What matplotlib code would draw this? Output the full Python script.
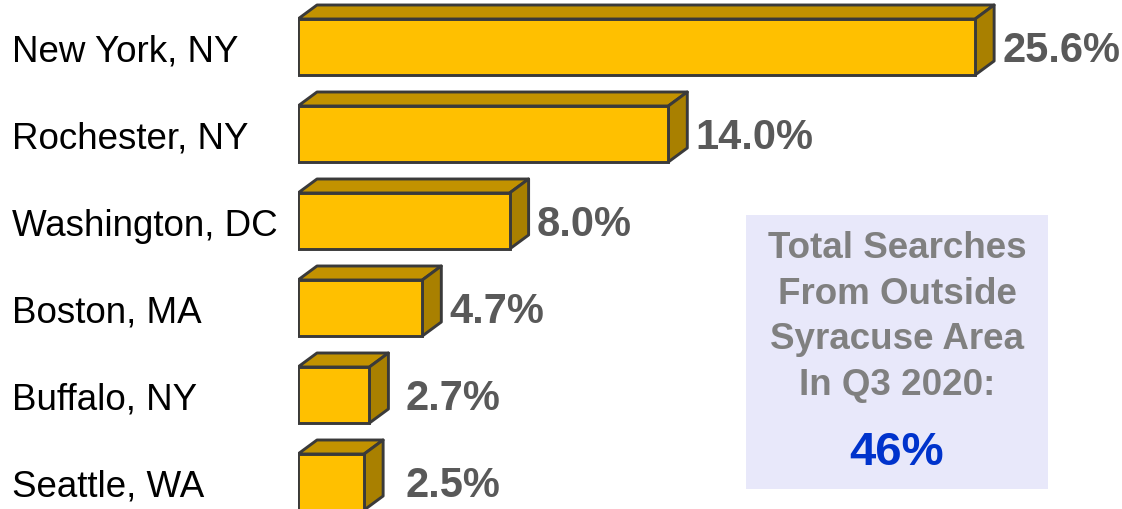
import matplotlib
matplotlib.use("Agg")
import matplotlib.pyplot as plt
from matplotlib.patches import Polygon, Rectangle
from matplotlib.transforms import blended_transform_factory

plt.rcParams['font.family'] = ['Liberation Sans', 'DejaVu Sans']

cities = ["New York, NY", "Rochester, NY", "Washington, DC",
          "Boston, MA", "Buffalo, NY", "Seattle, WA"]
shares = [25.6, 14.0, 8.0, 4.7, 2.7, 2.5]
share_labels = ["25.6%", "14.0%", "8.0%", "4.7%", "2.7%", "2.5%"]
total_outside = "46%"

W, H = 1122, 510
fig = plt.figure(figsize=(W / 100, H / 100), dpi=100)
fig.patch.set_facecolor("white")

# axes: x=0 sits at pixel 298, 26.45 px per percent; rows every 87 px
x0_px, px_per = 298, 26.45
row_px, first_px = 87, 48
ax = fig.add_axes([x0_px / W, 0, 1 - x0_px / W, 1])
ax.set_xlim(0, (W - x0_px) / px_per)
ax.set_ylim((H - first_px) / row_px, -first_px / row_px)
ax.axis("off")

front = "#FFC000"
top_c = "#C29200"
side_c = "#A98000"
edge = "#3a3a3a"
lw = 2.1
bh = 56 / row_px
dx = 19 / px_per
dy = -14 / row_px

for i, v in enumerate(shares):
    y0, y1 = i - bh / 2, i + bh / 2
    ax.add_patch(Polygon([(0, y0), (dx, y0 + dy), (v + dx, y0 + dy), (v, y0)],
                         closed=True, fc=top_c, ec=edge, lw=lw, joinstyle="round"))
    ax.add_patch(Polygon([(v, y0), (v + dx, y0 + dy), (v + dx, y1 + dy), (v, y1)],
                         closed=True, fc=side_c, ec=edge, lw=lw, joinstyle="round"))
    ax.barh(i, v, height=bh, color=front, edgecolor=edge, linewidth=lw, zorder=3)
    lx = max(v + dx + 0.3, 4.05)
    ax.text(lx, i + 0.03, share_labels[i], ha="left", va="center",
            fontsize=30, fontweight="bold", color="#595959")

tr = blended_transform_factory(fig.transFigure, ax.transData)
for i, c in enumerate(cities):
    ax.text(12 / W, i + 0.05, c, transform=tr, ha="left", va="center",
            fontsize=26.5, color="black")

# summary box
bx0, by0, bx1, by1 = 746, 216, 1048, 490
fig.patches.append(Rectangle((bx0 / W, 1 - by1 / H), (bx1 - bx0) / W, (by1 - by0) / H,
                             transform=fig.transFigure, fc="#E8E8FA", ec="none", zorder=0))
cx = (bx0 + bx1) / 2 / W
for j, line in enumerate(["Total Searches", "From Outside", "Syracuse Area", "In Q3 2020:"]):
    fig.text(cx, 1 - (249 + 45.5 * j) / H, line, ha="center", va="center",
             fontsize=26.5, fontweight="bold", color="#808080")
fig.text(cx, 1 - 453 / H, total_outside, ha="center", va="center",
         fontsize=34, fontweight="bold", color="#0033CC")

fig.savefig("out.png", dpi=100)
